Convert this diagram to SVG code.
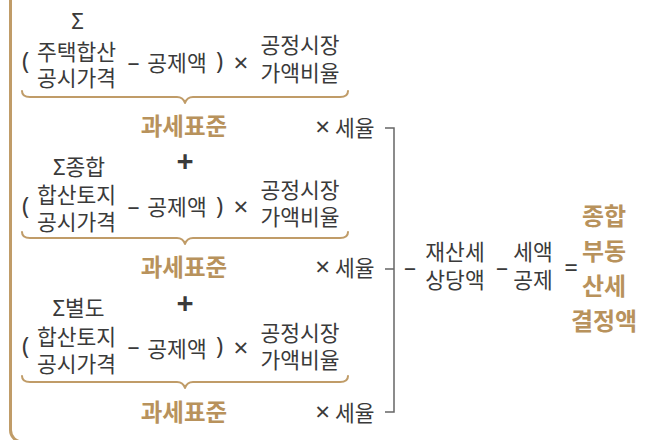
<svg xmlns="http://www.w3.org/2000/svg" width="645" height="440" viewBox="0 0 645 440">
<style>
.t{font-family:"Noto Sans CJK KR","Noto Sans",sans-serif;font-size:21.5px;fill:#3a3a3a;text-anchor:middle}
.s{font-family:"Noto Sans","Noto Sans CJK KR",sans-serif;font-size:24px;fill:#3a3a3a;text-anchor:middle}
.x{font-family:"Noto Sans","Noto Sans CJK KR",sans-serif;font-size:26px;fill:#3a3a3a;text-anchor:middle}
.sg{font-family:"Noto Sans",sans-serif;font-size:22px;fill:#3a3a3a}
.g{font-family:"Noto Sans CJK KR",sans-serif;font-size:23.5px;font-weight:bold;fill:#b8925c;text-anchor:middle}
.r{font-family:"Noto Sans CJK KR",sans-serif;font-size:24px;font-weight:bold;fill:#b8925c;text-anchor:middle}
.p{font-family:"Noto Sans",sans-serif;font-size:30px;font-weight:bold;fill:#3a3a3a;text-anchor:middle}
.brace{fill:none;stroke:#c09c68;stroke-width:2;stroke-linecap:round;stroke-linejoin:round}
.frame{fill:none;stroke:#c09c68;stroke-width:3}
.bk{fill:none;stroke:#666;stroke-width:1.5}
</style>
<defs>
<path id="br" d="M22,91 Q22,97 30,97 H177 Q183,97 185,103 Q187,97 193,97 H340 Q348,97 348,91"/>
</defs>
<g id="connectors">
<path class="frame" d="M10.5,0 V430 A12 12 0 0 0 22.5 442 H640"/>
<use href="#br" class="brace"/>
<use href="#br" class="brace" transform="translate(0,141)"/>
<use href="#br" class="brace" transform="translate(0,285)"/>
<path class="bk" d="M385,128 H394 V412 H385 M385,269 H394"/>
</g>
<g id="block1">
<text class="t"><tspan class="sg" x="77.5" y="29" text-anchor="middle">Σ</tspan><tspan x="76.5" y="60">주택합산</tspan><tspan x="76.5" y="86">공시가격</tspan></text>
<text class="s" x="25.5" y="69">(</text>
<text class="s" x="133.5" y="70">–</text>
<text class="t" x="177" y="71">공제액</text>
<text class="s" x="219.5" y="69">)</text>
<text class="x" x="241" y="72">×</text>
<text class="t"><tspan x="300" y="53">공정시장</tspan><tspan x="300" y="81">가액비율</tspan></text>
<text class="g" x="184" y="135">과세표준</text>
<text class="t" x="345" y="136"><tspan class="x" font-size="24">×</tspan> 세율</text>
</g>
<g id="block2">
<text class="p" x="185" y="172">+</text>
<text class="t"><tspan x="79" y="175"><tspan class="sg">Σ</tspan>종합</tspan><tspan x="76.5" y="203">합산토지</tspan><tspan x="76.5" y="230">공시가격</tspan></text>
<text class="s" x="25.5" y="214">(</text>
<text class="s" x="133.5" y="214">–</text>
<text class="t" x="177" y="215">공제액</text>
<text class="s" x="219.5" y="214">)</text>
<text class="x" x="241" y="216">×</text>
<text class="t"><tspan x="300" y="198">공정시장</tspan><tspan x="300" y="225">가액비율</tspan></text>
<text class="g" x="184" y="276">과세표준</text>
<text class="t" x="345" y="276"><tspan class="x" font-size="24">×</tspan> 세율</text>
</g>
<g id="block3">
<text class="p" x="185" y="314">+</text>
<text class="t"><tspan x="78.5" y="316"><tspan class="sg">Σ</tspan>별도</tspan><tspan x="76.5" y="345">합산토지</tspan><tspan x="76.5" y="372">공시가격</tspan></text>
<text class="s" x="25.5" y="354">(</text>
<text class="s" x="133.5" y="354">–</text>
<text class="t" x="177" y="357">공제액</text>
<text class="s" x="219.5" y="354">)</text>
<text class="x" x="241" y="357">×</text>
<text class="t"><tspan x="300" y="341">공정시장</tspan><tspan x="300" y="368">가액비율</tspan></text>
<text class="g" x="184" y="421">과세표준</text>
<text class="t" x="345" y="421"><tspan class="x" font-size="24">×</tspan> 세율</text>
</g>
<g id="deductions">
<text class="s" x="410" y="275">–</text>
<text class="t"><tspan x="455" y="260">재산세</tspan><tspan x="455" y="288">상당액</tspan></text>
<text class="s" x="502" y="275">–</text>
<text class="t"><tspan x="533" y="260">세액</tspan><tspan x="533" y="288">공제</tspan></text>
<text class="s" x="571" y="276">=</text>
</g>
<g id="result">
<text class="r"><tspan x="604" y="225">종합</tspan><tspan x="604" y="260">부동</tspan><tspan x="604" y="295">산세</tspan><tspan x="604" y="330">결정액</tspan></text>
</g>
</svg>
